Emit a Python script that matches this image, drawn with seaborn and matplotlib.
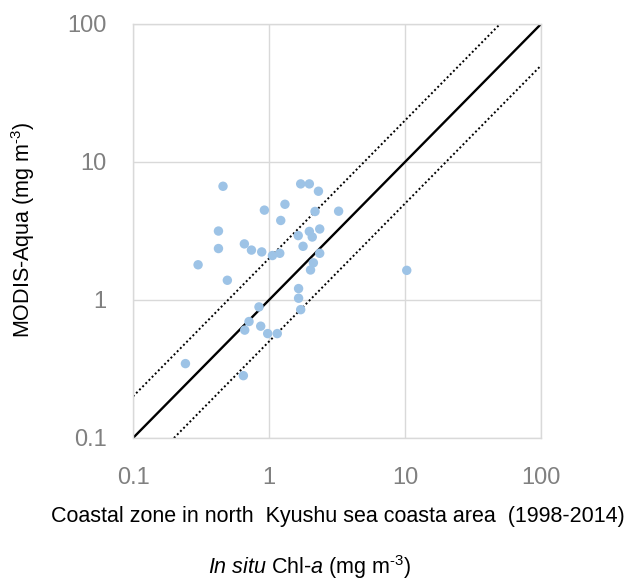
import matplotlib
matplotlib.use("Agg")
import matplotlib.pyplot as plt
import matplotlib.ticker as mticker
import seaborn as sns
import pandas as pd

# ---- data ----
in_situ = [0.459, 1.71, 1.98, 2.31, 1.31, 0.925, 2.18, 3.25, 1.22, 0.425,
           1.98, 2.36, 1.64, 2.08, 1.78, 0.425, 0.659, 0.743, 0.884, 1.06,
           1.20, 2.36, 2.12, 2.02, 0.301, 0.494, 1.65, 1.65, 1.71, 0.844,
           0.713, 0.663, 0.869, 0.978, 1.15, 0.243, 0.648, 10.3]
modis = [6.67, 6.94, 6.94, 6.14, 4.94, 4.48, 4.38, 4.40, 3.77, 3.16,
         3.14, 3.27, 2.93, 2.86, 2.45, 2.36, 2.55, 2.30, 2.23, 2.10,
         2.18, 2.18, 1.86, 1.65, 1.80, 1.39, 1.21, 1.03, 0.851, 0.891,
         0.698, 0.605, 0.646, 0.571, 0.571, 0.346, 0.283, 1.64]

line_1to1_x = [0.1, 100]
line_1to1_y = [0.1, 100]
line_upper_x = [0.1, 50]
line_upper_y = [0.2, 100]
line_lower_x = [0.2, 100]
line_lower_y = [0.1, 50]

tick_values = [0.1, 1, 10, 100]
tick_labels = ["0.1", "1", "10", "100"]

xlabel_line1 = "Coastal zone in north  Kyushu sea coasta area  (1998-2014)"
xlabel_line2 = r"$\mathit{In\ situ}$ Chl-$\mathit{a}$ (mg m$^{\text{-3}}$)"
ylabel = r"MODIS-Aqua (mg m$^{\text{-3}}$)"

# ---- style ----
sns.set_style("white")
plt.rcParams["font.family"] = ["Liberation Sans", "DejaVu Sans"]
plt.rcParams["mathtext.fontset"] = "custom"
plt.rcParams["mathtext.rm"] = "Liberation Sans"
plt.rcParams["mathtext.it"] = "Liberation Sans:italic"
plt.rcParams["mathtext.bf"] = "Liberation Sans:bold"

W, H = 632, 581
fig = plt.figure(figsize=(W / 100, H / 100), dpi=100)
ax = fig.add_axes([133 / W, 1 - 438 / H, (541 - 133) / W, (438 - 24) / H])

df = pd.DataFrame({"in_situ": in_situ, "modis": modis})

ax.set_xscale("log")
ax.set_yscale("log")

sns.lineplot(x=line_upper_x, y=line_upper_y, ax=ax, color="black",
             linewidth=1.4, linestyle=(0, (1, 1.3)), zorder=2)
sns.lineplot(x=line_lower_x, y=line_lower_y, ax=ax, color="black",
             linewidth=1.4, linestyle=(0, (1, 1.3)), zorder=2)
sns.lineplot(x=line_1to1_x, y=line_1to1_y, ax=ax, color="black",
             linewidth=1.7, zorder=2)
sns.scatterplot(data=df, x="in_situ", y="modis", ax=ax, color="#9dc3e6",
                s=46, edgecolor="none", zorder=3)

ax.set_xlim(0.1, 100)
ax.set_ylim(0.1, 100)
for axis in (ax.xaxis, ax.yaxis):
    axis.set_major_locator(mticker.FixedLocator(tick_values))
    axis.set_major_formatter(mticker.FixedFormatter(tick_labels))
    axis.set_minor_locator(mticker.NullLocator())

ax.grid(True, color="#d9d9d9", linewidth=1.0)
ax.set_axisbelow(True)
for sp in ax.spines.values():
    sp.set_visible(True)
    sp.set_color("#d9d9d9")
    sp.set_linewidth(1.0)

ax.tick_params(axis="both", length=0, labelsize=17, labelcolor="#808080")
ax.tick_params(axis="x", pad=21)
ax.tick_params(axis="y", pad=19)
ax.set_xlabel("")
ax.set_ylabel("")

fig.text(338 / W, 1 - 522 / H, xlabel_line1, ha="center", va="baseline",
         fontsize=15.5, color="black")
fig.text(310 / W, 1 - 574 / H, xlabel_line2, ha="center", va="baseline",
         fontsize=15.5, color="black")
fig.text(23 / W, 1 - 230 / H, ylabel, ha="center", va="center",
         rotation=90, fontsize=15.5, color="black")

fig.savefig("out.png", dpi=100)
